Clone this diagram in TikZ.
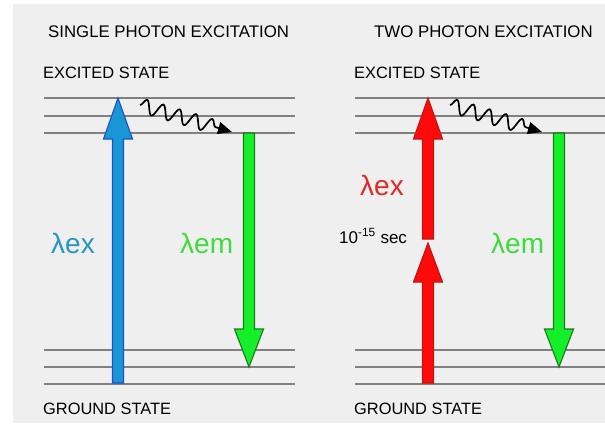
\documentclass[tikz,border=0pt]{standalone}
\usepackage{fontspec}
\setmainfont{Liberation Sans}
\usetikzlibrary{calc,arrows.meta,decorations.pathmorphing}
\definecolor{panelGray}{RGB}{239,239,239}
\definecolor{levelGray}{RGB}{128,128,128}
\definecolor{exBlue}{RGB}{24,150,214}
\definecolor{exBlueLine}{RGB}{30,80,200}
\definecolor{labelBlue}{RGB}{38,150,196}
\definecolor{exRed}{RGB}{255,10,10}
\definecolor{exRedLine}{RGB}{190,20,20}
\definecolor{labelRed}{RGB}{225,40,40}
\definecolor{emGreen}{RGB}{20,240,40}
\definecolor{emGreenLine}{RGB}{30,120,30}
\definecolor{labelGreen}{RGB}{60,220,60}
% #1 fill, #2 border, #3 x, #4 tail y, #5 tip y, #6 head length
\newcommand{\FatArrow}[6]{%
  \filldraw[fill=#1,draw=#2,line width=1.1pt,line join=miter]
    (#3-5.5,#4) -- ($(#3-5.5,#5)+(0,#6)$) -- ($(#3-14.5,#5)+(0,#6)$) -- (#3,#5)
    -- ($(#3+14.5,#5)+(0,#6)$) -- ($(#3+5.5,#5)+(0,#6)$) -- (#3+5.5,#4) -- cycle;}
% #1 left x, #2 right x, #3 label x
\newcommand{\EnergyLevels}[3]{%
  \foreach \yy in {98,116,133,350,367,384}
    \draw[levelGray,line width=1.4pt] (#1,\yy) -- (#2,\yy);
  \node[anchor=base west,inner sep=0pt,font=\fontsize{16.4}{18}\selectfont] (exc#3) at (#3,78) {EXCITED STATE};
  \node[anchor=base west,inner sep=0pt,font=\fontsize{16.4}{18}\selectfont] (gnd#3) at (#3,414) {GROUND STATE};}

\begin{document}
\begin{tikzpicture}[x=1pt,y=-1pt]
\useasboundingbox (0,0) rectangle (605,423);
\fill[panelGray] (13,4) rectangle (605,423);

% titles
\node[anchor=base west,inner sep=0pt,font=\fontsize{16.8}{18}\selectfont] (titleOne) at (48,37.5) {SINGLE PHOTON EXCITATION};
\node[anchor=base west,inner sep=0pt,font=\fontsize{16.8}{18}\selectfont] (titleTwo) at (374,37.5) {TWO PHOTON EXCITATION};

\EnergyLevels{44}{295}{43}
\EnergyLevels{355}{605}{354}

% single photon
\FatArrow{exBlue}{exBlueLine}{118}{383}{98}{41}
\FatArrow{emGreen}{emGreenLine}{249}{133}{367}{-38}
\coordinate (wavyStartL) at (140,105);
\coordinate (wavyEndL) at (232,132);
\draw[line width=1.7pt,decorate,decoration={snake,amplitude=7pt,segment length=17pt,post length=9pt},-{Triangle[length=14pt,width=12pt]}] (wavyStartL) -- (wavyEndL);
\node[anchor=base west,inner sep=0pt,text=labelBlue,font=\fontsize{28}{30}\selectfont] (lexOne) at (51,253) {λex};
\node[anchor=base west,inner sep=0pt,text=labelGreen,font=\fontsize{28}{30}\selectfont] (lemOne) at (180,253) {λem};

% two photon
\FatArrow{exRed}{exRedLine}{428}{239}{98}{41}
\FatArrow{exRed}{exRedLine}{428}{383}{243}{39}
\FatArrow{emGreen}{emGreenLine}{559}{133}{367}{-38}
\coordinate (wavyStartR) at (450,105);
\coordinate (wavyEndR) at (542,132);
\draw[line width=1.7pt,decorate,decoration={snake,amplitude=7pt,segment length=17pt,post length=9pt},-{Triangle[length=14pt,width=12pt]}] (wavyStartR) -- (wavyEndR);
\node[anchor=base west,inner sep=0pt,text=labelRed,font=\fontsize{28}{30}\selectfont] (lexTwo) at (360,195) {λex};
\node[anchor=base west,inner sep=0pt,font=\fontsize{17}{19}\selectfont] (pulse) at (339,243) {10\textsuperscript{-15} sec};
\node[anchor=base west,inner sep=0pt,text=labelGreen,font=\fontsize{28}{30}\selectfont] (lemTwo) at (491,253) {λem};
\end{tikzpicture}
\end{document}
